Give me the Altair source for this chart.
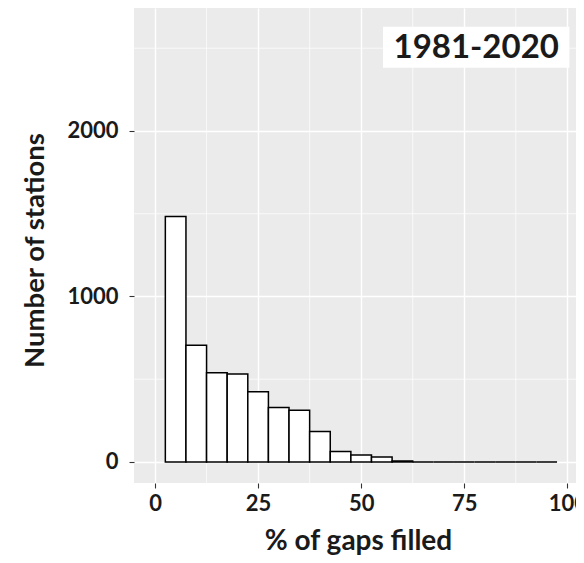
import altair as alt
import pandas as pd

# Histogram bins (% of gaps filled) and counts (number of stations)
bin_start = [2.5, 7.5, 12.5, 17.5, 22.5, 27.5, 32.5, 37.5, 42.5, 47.5,
             52.5, 57.5, 62.5, 67.5, 72.5, 77.5, 82.5, 87.5, 92.5]
bin_end = [7.5, 12.5, 17.5, 22.5, 27.5, 32.5, 37.5, 42.5, 47.5, 52.5,
           57.5, 62.5, 67.5, 72.5, 77.5, 82.5, 87.5, 92.5, 97.5]
counts = [1483, 705, 539, 531, 424, 329, 313, 184, 63, 42,
          30, 6, 0, 0, 0, 0, 0, 0, 0]

x_ticks = [0, 25, 50, 75, 100]
y_ticks = [0, 1000, 2000]
minor_x = [12.5, 37.5, 62.5, 87.5]
minor_y = [500, 1500, 2500]

label_text = ["1981-2020"]
label_box_x = [55.3]
label_box_x2 = [100.5]
label_box_y = [2382]
label_box_y2 = [2630]

x_domain = [-5.1, 102.1]
y_domain = [-127, 2743]

FONT = "Lato"
TXT = "#1a1a1a"

hist = pd.DataFrame({"start": bin_start, "end": bin_end, "count": counts})
mx = pd.DataFrame({"v": minor_x})
my = pd.DataFrame({"v": minor_y})
lab = pd.DataFrame({"t": label_text, "x": label_box_x, "x2": label_box_x2,
                    "y": label_box_y, "y2": label_box_y2})
lab["xc"] = (lab["x"] + lab["x2"]) / 2
lab["yc"] = (lab["y"] + lab["y2"]) / 2

xs = alt.Scale(domain=x_domain, nice=False, zero=False)
ys = alt.Scale(domain=y_domain, nice=False, zero=False)

x_axis = alt.Axis(values=x_ticks, title="% of gaps filled", grid=True,
                  format="d",
                  gridColor="white", gridWidth=1.4, domain=False,
                  tickColor="#333333", tickSize=5, tickWidth=1.1,
                  labelFont=FONT, labelFontSize=22, labelFontWeight="bold",
                  labelColor=TXT, labelPadding=5, labelFlush=False,
                  titleFont=FONT, titleFontSize=28, titleFontWeight="bold",
                  titleColor=TXT, titleBaseline="alphabetic",
                  titleX=224, titleY=66)
y_axis = alt.Axis(values=y_ticks, title="Number of stations", grid=True,
                  format="d",
                  gridColor="white", gridWidth=1.4, domain=False,
                  tickColor="#333333", tickSize=5, tickWidth=1.1,
                  labelFont=FONT, labelFontSize=22, labelFontWeight="bold",
                  labelColor=TXT, labelPadding=11, labelFlush=False,
                  titleFont=FONT, titleFontSize=27.5, titleFontWeight="bold",
                  titleColor=TXT, titleBaseline="alphabetic", titleAngle=-90,
                  titleX=-91, titleY=242)

minor_v = alt.Chart(mx).mark_rule(color="white", strokeWidth=0.7).encode(
    x=alt.X("v:Q", scale=xs, axis=x_axis))
minor_h = alt.Chart(my).mark_rule(color="white", strokeWidth=0.7).encode(
    y=alt.Y("v:Q", scale=ys, axis=y_axis))

bars = alt.Chart(hist).mark_rect(fill="white", stroke="black",
                                 strokeWidth=1.5).encode(
    x=alt.X("start:Q", scale=xs, axis=x_axis),
    x2="end:Q",
    y=alt.Y("count:Q", scale=ys, axis=y_axis),
    y2=alt.datum(0),
)

box = alt.Chart(lab).mark_rect(fill="white").encode(
    x=alt.X("x:Q", scale=xs), x2="x2:Q",
    y=alt.Y("y:Q", scale=ys), y2="y2:Q")
txt = alt.Chart(lab).mark_text(font=FONT, fontSize=33, fontWeight="bold",
                               color=TXT, baseline="middle", align="center",
                               dy=1).encode(
    x=alt.X("xc:Q", scale=xs), y=alt.Y("yc:Q", scale=ys), text="t:N")

chart = alt.layer(minor_v, minor_h, bars, box, txt).properties(
    width=442, height=475,
    background="white",
    autosize=alt.AutoSizeParams(type="none"),
    padding={"left": 126, "top": 0, "right": 0, "bottom": 72},
).configure_view(fill="#EBEBEB", stroke=None)

chart.save("out.html", embed_options={"renderer": "svg", "actions": False})
